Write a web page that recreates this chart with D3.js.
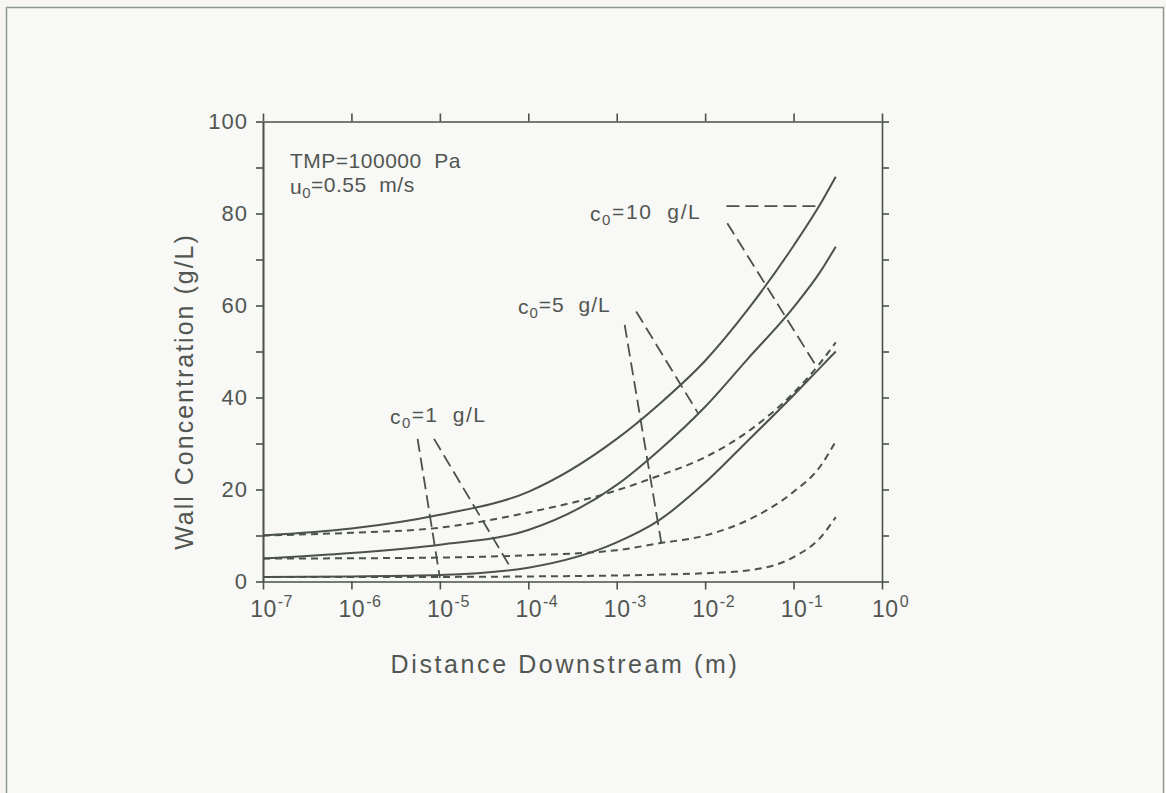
<!DOCTYPE html>
<html>
<head>
<meta charset="utf-8">
<script src="https://cdn.jsdelivr.net/npm/d3@7"></script>
<style>
  body { margin: 0; background: #f6f6f3; }
  svg { display: block; }
  text { font-family: "Liberation Sans", Arial, sans-serif; fill: #525652; white-space: pre; }
</style>
</head>
<body>
<div id="chart"></div>
<script>
// Distance downstream (m) where the curves were read
const distance = [1e-7, 1e-6, 1e-5, 1e-4, 1e-3, 3e-3, 1e-2, 3e-2, 0.1, 0.2, 0.3];

// Wall concentration (g/L), solid curves
const solid10 = [10, 11.5, 14.5, 19.5, 31, 38.5, 48, 59, 73, 82, 88];
const solid5 = [5, 6.2, 8, 11.2, 21, 28.5, 38, 48.3, 59.6, 67.3, 72.8];
const solid1 = [1, 1.1, 1.4, 3, 8.5, 13.3, 21.5, 30.5, 40.5, 46.5, 50];

// Wall concentration (g/L), dashed curves
const dashed10 = [10, 10.6, 11.7, 15, 19.8, 23, 27, 32.5, 41, 47.5, 52];
const dashed5 = [5, 5.05, 5.2, 5.7, 6.8, 8.3, 10, 13.3, 19.5, 25, 30.5];
const dashed1 = [1, 1, 1, 1.1, 1.3, 1.5, 1.8, 2.4, 5.3, 9.5, 14];

// Axis ticks
const xTicks = [1e-7, 1e-6, 1e-5, 1e-4, 1e-3, 1e-2, 1e-1, 1];
const xExponents = ["-7", "-6", "-5", "-4", "-3", "-2", "-1", "0"];
const yTicks = [0, 20, 40, 60, 80, 100];
const yMinorTicks = [10, 30, 50, 70, 90];

// Leader lines from the c0 labels to the curves: [[x0, y0], [x1, y1]]
const leaders = [
  [[5.6e-6, 31], [1.0e-5, 0.8]],
  [[8.6e-6, 31], [6.5e-5, 2.6]],
  [[1.23e-3, 55.8], [3.2e-3, 8.3]],
  [[1.66e-3, 58.7], [8.3e-3, 36.6]],
  [[0.0174, 81.6], [0.185, 81.6]],
  [[0.0178, 77.9], [0.178, 47]]
];

const pageWidth = 1166;
const pageHeight = 793;
const margin = { top: 121.5, right: 284, bottom: 211.5, left: 263 };
const width = pageWidth - margin.left - margin.right;
const height = pageHeight - margin.top - margin.bottom;
const ink = "#4a5249";

const root = d3
  .select("#chart")
  .append("svg")
  .attr("width", pageWidth)
  .attr("height", pageHeight);

// page frame
root
  .append("rect")
  .attr("x", 6.5)
  .attr("y", 7.5)
  .attr("width", 1157)
  .attr("height", 800)
  .attr("fill", "#f8f8f6")
  .attr("stroke", "#8f9a8f")
  .attr("stroke-width", 1.5);

const svg = root
  .append("g")
  .attr("transform", `translate(${margin.left},${margin.top})`);

const x = d3.scaleLog().domain([1e-7, 1]).range([0, width]);
const y = d3.scaleLinear().domain([0, 100]).range([height, 0]);

function styleAxis(g) {
  g.selectAll("path, line").attr("stroke", ink).attr("stroke-width", 1.6);
}

// bottom axis with power-of-ten labels
const xAxis = svg
  .append("g")
  .attr("transform", `translate(0,${height})`)
  .call(
    d3.axisBottom(x).tickValues(xTicks).tickSize(8).tickSizeOuter(0).tickPadding(11)
  )
  .call(styleAxis);

xAxis
  .selectAll(".tick text")
  .text(null)
  .attr("font-size", 23)
  .attr("font-family", "Liberation Sans, Arial, sans-serif")
  .attr("fill", "#525652")
  .attr("letter-spacing", 0.5)
  .each(function (d, i) {
    const t = d3.select(this);
    t.append("tspan").text("10");
    t.append("tspan")
      .attr("font-size", 16)
      .attr("dy", "-0.6em")
      .attr("dx", "1")
      .text(xExponents[i]);
  })
  .attr("text-anchor", "middle")
  .attr("dx", "0.35em");

// top axis, ticks only
svg
  .append("g")
  .call(d3.axisTop(x).tickValues(xTicks).tickSize(8).tickSizeOuter(0).tickFormat(""))
  .call(styleAxis);

// left axis
svg
  .append("g")
  .call(d3.axisLeft(y).tickValues(yTicks).tickSize(7).tickSizeOuter(0).tickPadding(8))
  .call(styleAxis)
  .selectAll("text")
  .attr("font-size", 22)
  .attr("letter-spacing", 1)
  .attr("font-family", "Liberation Sans, Arial, sans-serif")
  .attr("fill", "#525652");

svg
  .append("g")
  .call(d3.axisLeft(y).tickValues(yMinorTicks).tickSize(7).tickSizeOuter(0).tickFormat(""))
  .call(styleAxis);

// right axis, ticks only
svg
  .append("g")
  .attr("transform", `translate(${width},0)`)
  .call(
    d3.axisRight(y).tickValues(yTicks.concat(yMinorTicks)).tickSize(7).tickSizeOuter(0).tickFormat("")
  )
  .call(styleAxis);

// axis titles
svg
  .append("text")
  .attr("transform", `translate(${-70},${270}) rotate(-90)`)
  .attr("text-anchor", "middle")
  .attr("font-size", 25)
  .attr("letter-spacing", 2)
  .text("Wall Concentration (g/L)");

svg
  .append("text")
  .attr("x", 302)
  .attr("y", height + 91)
  .attr("text-anchor", "middle")
  .attr("font-size", 25)
  .attr("letter-spacing", 2.6)
  .text("Distance Downstream (m)");

// curves
const line = d3
  .line()
  .x((d) => x(d[0]))
  .y((d) => y(d[1]))
  .curve(d3.curveMonotoneX);

const series = [
  { values: solid10, dash: null },
  { values: solid5, dash: null },
  { values: solid1, dash: null },
  { values: dashed10, dash: "7,5" },
  { values: dashed5, dash: "7,5" },
  { values: dashed1, dash: "7,5" }
];

svg
  .append("g")
  .selectAll("path")
  .data(series)
  .join("path")
  .attr("d", (s) => line(distance.map((dd, i) => [dd, s.values[i]])))
  .attr("fill", "none")
  .attr("stroke", ink)
  .attr("stroke-width", 2)
  .attr("stroke-dasharray", (s) => s.dash);

// leader lines
svg
  .append("g")
  .selectAll("path")
  .data(leaders)
  .join("path")
  .attr("d", (d) => d3.line().x((p) => x(p[0])).y((p) => y(p[1]))(d))
  .attr("fill", "none")
  .attr("stroke", ink)
  .attr("stroke-width", 1.8)
  .attr("stroke-dasharray", "13,6");

// text annotations
function subLabel(xPos, yPos, base, sub, rest, spacing) {
  const t = svg
    .append("text")
    .attr("x", xPos)
    .attr("y", yPos)
    .attr("font-size", 21)
    .attr("letter-spacing", spacing);
  t.append("tspan").text(base);
  t.append("tspan").attr("font-size", 15).attr("dy", "0.3em").text(sub);
  t.append("tspan").attr("dy", "-0.3em").text(rest);
}

svg
  .append("text")
  .attr("x", 27)
  .attr("y", 46)
  .attr("font-size", 21)
  .attr("letter-spacing", 0.5)
  .text("TMP=100000  Pa");

subLabel(27, 72, "u", "0", "=0.55  m/s", 0.5);
subLabel(327, 99, "c", "0", "=10  g/L", 1.6);
subLabel(255, 192, "c", "0", "=5  g/L", 1);
subLabel(127, 302, "c", "0", "=1  g/L", 1.4);
</script>
</body>
</html>
